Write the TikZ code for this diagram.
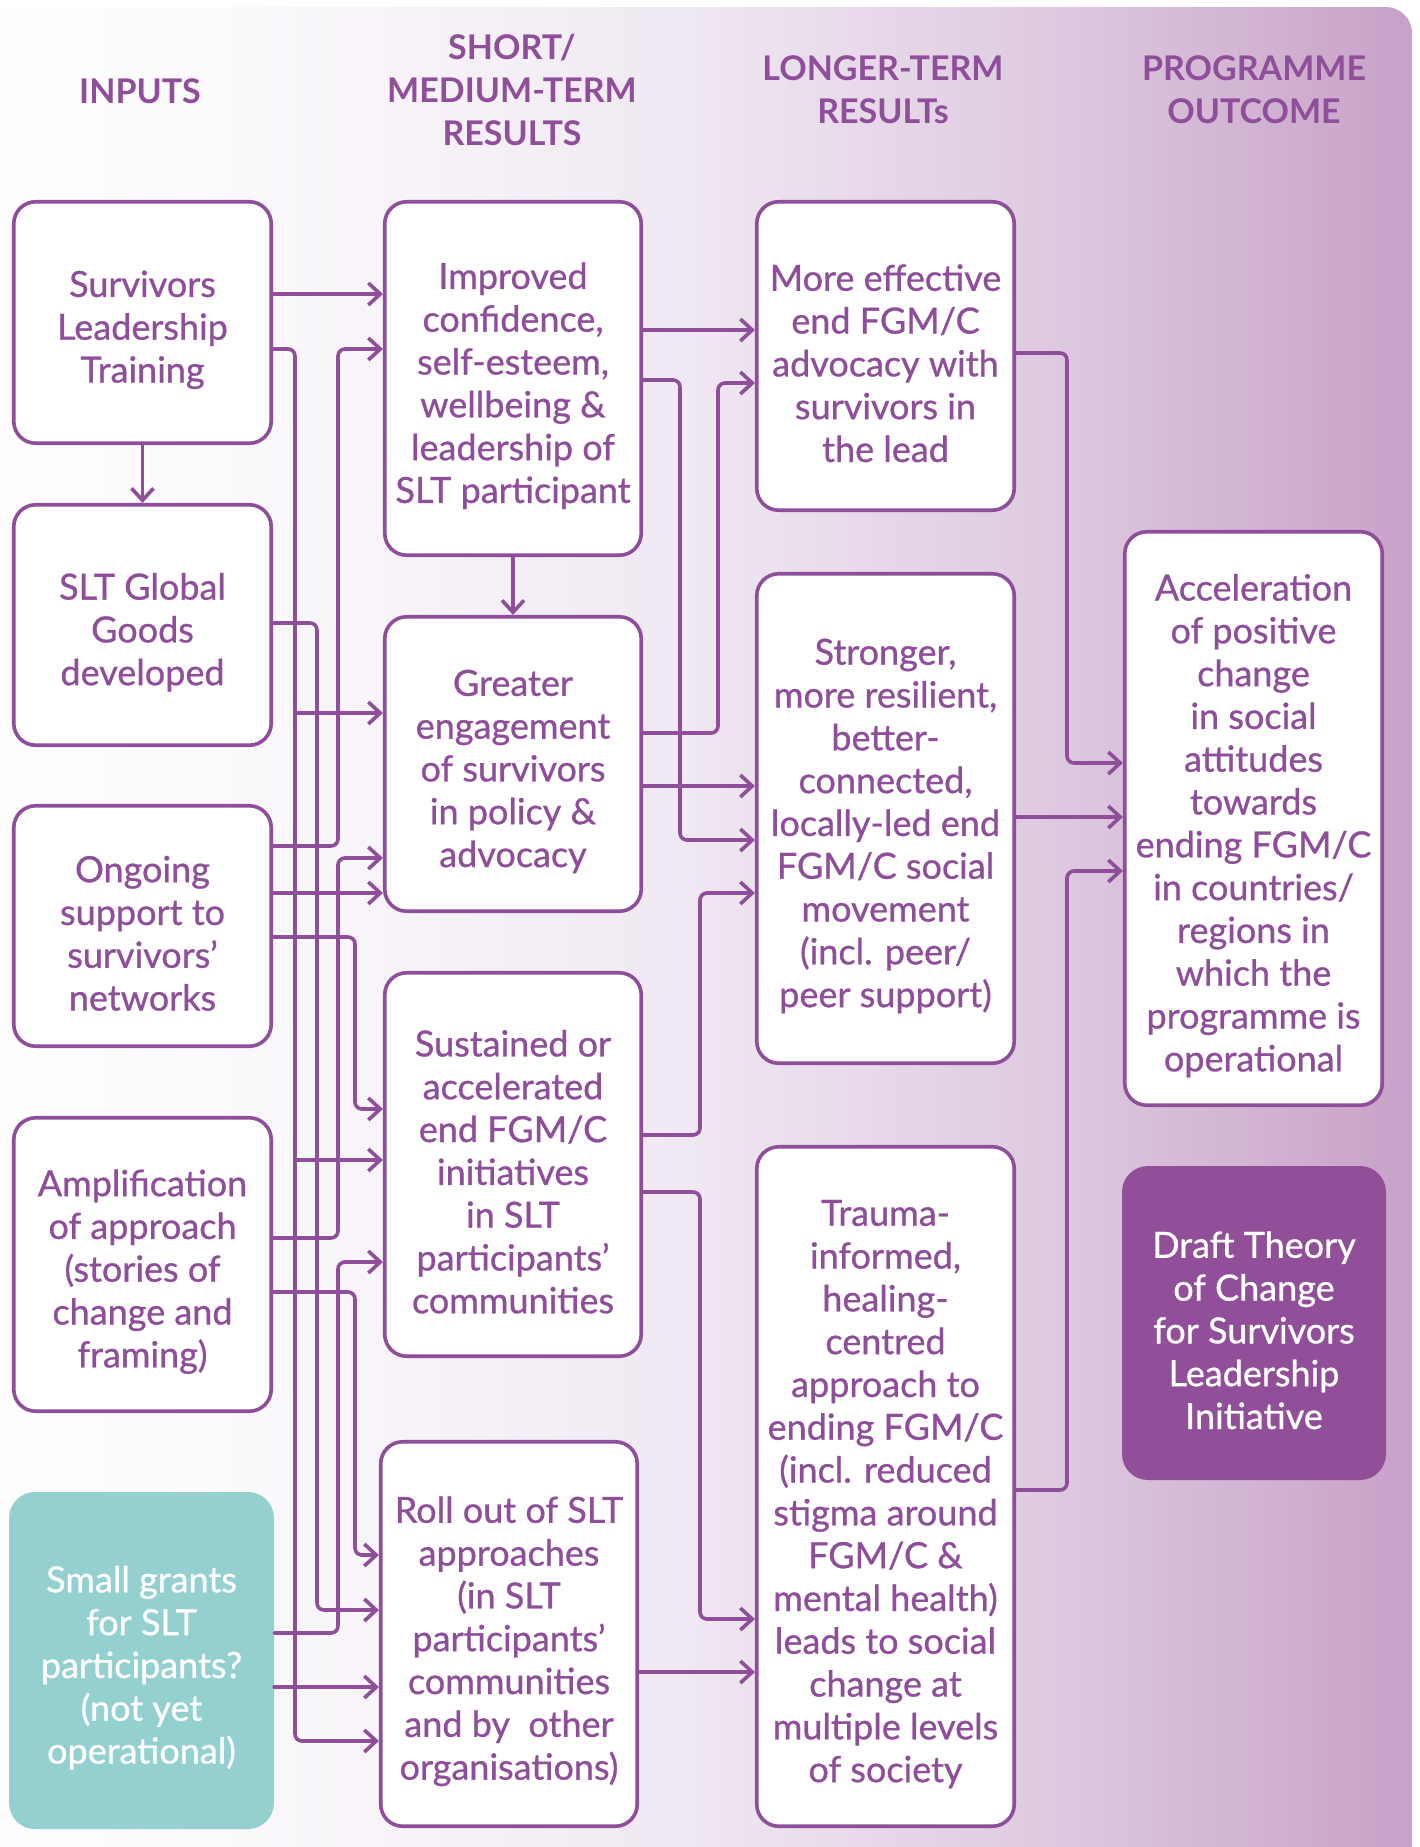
\documentclass[tikz,border=0pt]{standalone}
\usepackage{fontspec}
\setmainfont{Lato}
\newfontfamily\medfam{Lato}[FakeBold=0.8]
\usetikzlibrary{arrows.meta}
\definecolor{pp}{HTML}{8E4E9A}
\definecolor{ppfill}{HTML}{924F99}
\definecolor{teal}{HTML}{94D0D0}
\definecolor{bgA}{HTML}{FBF9FC}
\definecolor{bgB}{HTML}{F0E8F2}
\definecolor{bgC}{HTML}{DECAE0}
\definecolor{bgR}{HTML}{C8A1C8}
\pgfdeclarehorizontalshading{bgsh}{100bp}{color(0bp)=(white); color(25bp)=(white); color(35bp)=(bgA); color(50bp)=(bgB); color(62.5bp)=(bgC); color(75bp)=(bgR); color(100bp)=(bgR)}
\newcommand\myBody{\fontsize{36}{42.8}\selectfont\medfam}
\newcommand\myHead{\fontsize{34}{42.6}\selectfont\bfseries}
\newcommand\Tup{\rule{0pt}{41pt}}
\begin{document}
\begin{tikzpicture}[x=1pt,y=-1pt,
  box/.style={draw=pp, line width=3.6pt, fill=white, rounded corners=22pt, align=center, text=pp, font=\myBody, inner sep=0pt},
  solid box/.style={rounded corners=26pt, align=center, text=white, font=\myBody, inner sep=0pt},
  head/.style={text=pp, font=\myHead, align=center},
  conn/.style={draw=pp, line width=3.6pt, rounded corners=7pt, line cap=round, -{Straight Barb[length=12pt,width=22pt]}}]
\useasboundingbox (0,0) rectangle (1419,1847);
% background
\shade[rounded corners=26pt, shading=bgsh] (-40,7) rectangle (1412,1900);

% headings
\node[head] (hin) at (140,91) {INPUTS};
\node[head] (hsm) at (512,90) {SHORT/\\MEDIUM-TERM\\RESULTS};
\node[head] (hlt) at (883,90) {LONGER-TERM\\RESULTs};
\node[head] (hpo) at (1254,90) {PROGRAMME\\OUTCOME};

% column 1
\node[box, minimum width=257.5pt, minimum height=241.5pt] (slt) at (142.5,322.5) {\Tup Survivors\\Leadership\\Training};
\node[box, minimum width=257.5pt, minimum height=240.5pt] (glob) at (142.5,625) {\Tup SLT Global\\Goods\\developed};
\node[box, minimum width=257.5pt, minimum height=240.5pt] (ong) at (142.5,926) {\Tup Ongoing\\support to\\survivors’\\networks};
\node[box, minimum width=257.5pt, minimum height=293.5pt] (amp) at (142.5,1264.5) {\Tup Amplification\\of approach\\(stories of\\change and\\framing)};
\node[solid box, fill=teal, minimum width=265pt, minimum height=337pt] (grants) at (141.5,1660.5) {\Tup Small grants\\for SLT\\participants?\\(not yet\\operational)};

% column 2
\node[box, minimum width=256.5pt, minimum height=353.5pt] (imp) at (513,378.5) {\Tup Improved\\confidence,\\self-esteem,\\wellbeing \&\\leadership of\\SLT participant};
\node[box, minimum width=256.5pt, minimum height=294.5pt] (gre) at (513,764) {\Tup Greater\\engagement\\of survivors\\in policy \&\\advocacy};
\node[box, minimum width=256.5pt, minimum height=383.5pt] (sus) at (513,1164.5) {\Tup Sustained or\\accelerated\\end FGM/C\\initiatives\\in SLT\\participants’\\communities};
\node[box, minimum width=256.5pt, minimum height=384.5pt] (roll) at (509,1634) {\Tup Roll out of SLT\\approaches\\(in SLT\\participants’\\communities\\and by\ \ other\\organisations)};

% column 3
\node[box, minimum width=257.5pt, minimum height=308.5pt] (eff) at (885.5,356) {\Tup More effective\\end FGM/C\\advocacy with\\survivors in\\the lead};
\node[box, minimum width=257.5pt, minimum height=489.5pt] (str) at (885.5,818.5) {\Tup Stronger,\\more resilient,\\better-\\connected,\\locally-led end\\FGM/C social\\movement\\(incl. peer/\\peer support)};
\node[box, minimum width=257.5pt, minimum height=679.5pt] (tra) at (885.5,1486.5) {\Tup Trauma-\\informed,\\healing-\\centred\\approach to\\ending FGM/C\\(incl. reduced\\stigma around\\FGM/C \&\\mental health)\\leads to social\\change at\\multiple levels\\of society};

% column 4
\node[box, minimum width=257.5pt, minimum height=573.5pt] (acc) at (1253.5,818.5) {\Tup Acceleration\\of positive\\change\\in social\\attitudes\\towards\\ending FGM/C\\in countries/\\regions in\\which the\\programme is\\operational};
\node[solid box, fill=ppfill, minimum width=264pt, minimum height=314pt] (draft) at (1254,1323) {\Tup Draft Theory\\of Change\\for Survivors\\Leadership\\Initiative};

% lanes
\coordinate (L1) at (295,0);
\coordinate (L2) at (317,0);
\coordinate (L3) at (338,0);
\coordinate (L4) at (355,0);
\coordinate (L5) at (680,0);
\coordinate (L7) at (700,0);
\coordinate (L6) at (718,0);
\coordinate (L8) at (1067,0);

% column 1 -> column 2
\draw[conn] (slt.south) -- (glob.north);
\draw[conn] (slt.east |- 0,294) -- (imp.west |- 0,294);
\draw[conn] (slt.east |- 0,349) -| (L1 |- 0,1741) -- (roll.west |- 0,1741);
\draw[conn] (L1 |- 0,713) -- (gre.west |- 0,713);
\draw[conn] (L1 |- 0,1160) -- (sus.west |- 0,1160);
\draw[conn] (glob.east |- 0,623) -| (L2 |- 0,1610) -- (roll.west |- 0,1610);
\draw[conn] (ong.east |- 0,846) -| (L3 |- 0,349) -- (imp.west |- 0,349);
\draw[conn] (ong.east |- 0,893) -- (gre.west |- 0,893);
\draw[conn] (ong.east |- 0,937) -| (L4 |- 0,1109) -- (sus.west |- 0,1109);
\draw[conn] (amp.east |- 0,1238) -| (L3 |- 0,858) -- (gre.west |- 0,858);
\draw[conn] (amp.east |- 0,1292) -| (L4 |- 0,1555) -- (roll.west |- 0,1555);
\draw[conn] (grants.east |- 0,1633) -| (L3 |- 0,1262) -- (sus.west |- 0,1262);
\draw[conn] (grants.east |- 0,1687) -- (roll.west |- 0,1687);

% column 2 -> column 3
\draw[conn] (imp.south) -- (gre.north);
\draw[conn] (imp.east |- 0,330) -- (eff.west |- 0,330);
\draw[conn] (imp.east |- 0,380) -| (L5 |- 0,840) -- (str.west |- 0,840);
\draw[conn] (gre.east |- 0,733) -| (L6 |- 0,383) -- (eff.west |- 0,383);
\draw[conn] (gre.east |- 0,786) -- (str.west |- 0,786);
\draw[conn] (sus.east |- 0,1135) -| (L7 |- 0,893) -- (str.west |- 0,893);
\draw[conn] (sus.east |- 0,1192) -| (L7 |- 0,1619) -- (tra.west |- 0,1619);
\draw[conn] (roll.east |- 0,1672) -- (tra.west |- 0,1672);

% column 3 -> column 4
\draw[conn] (eff.east |- 0,353) -| (L8 |- 0,763) -- (acc.west |- 0,763);
\draw[conn] (str.east |- 0,817) -- (acc.west |- 0,817);
\draw[conn] (tra.east |- 0,1490) -| (L8 |- 0,871) -- (acc.west |- 0,871);
\end{tikzpicture}
\end{document}
